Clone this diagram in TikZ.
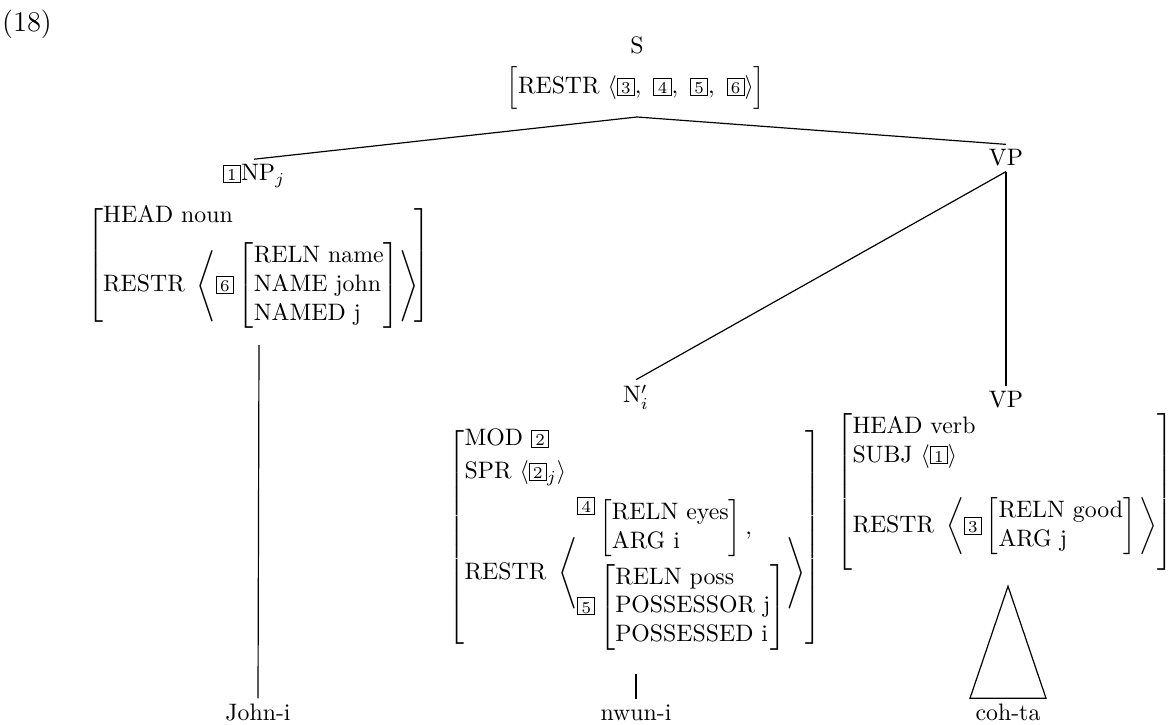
\documentclass[tikz,border=0pt]{standalone}
\usepackage{amsmath}
\usetikzlibrary{calc}
\newcommand{\tg}[1]{{\setlength{\fboxsep}{0pt}\setlength{\fboxrule}{0.4pt}\fbox{\makebox[6.8pt]{\rule[-0.6pt]{0pt}{6.9pt}\scriptsize #1}}}}
\newcommand{\avm}[1]{\left[\begin{array}{@{}l@{}}#1\end{array}\right]}
\begin{document}
\begin{tikzpicture}[x=0.4202pt,y=-0.4202pt,
  lbl/.style={inner sep=2pt},
  fs/.style={inner sep=0pt},
  tree/.style={line width=0.5pt}]
\useasboundingbox (0,0) rectangle (1171,725);
\node[lbl] (ex) at (27,24) {\large (18)};
% S
\node[lbl] (s) at (637,45) {S};
\node[fs] (sfs) at (636,88) {$\Bigl[\mbox{RESTR}\ \langle\tg{3},\ \tg{4},\ \tg{5},\ \tg{6}\rangle\Bigr]$};
\coordinate (sapex) at (637,117);
% NP
\node[lbl] (npl) at (254,176) {\tg{1}NP$_j$};
\node[fs,anchor=north] (npfs) at (259,202) {$\avm{\mbox{HEAD noun}\\[5pt]
  \mbox{RESTR}\ \left\langle\tg{6}\avm{\mbox{RELN name}\\ \mbox{NAME john}\\ \mbox{NAMED j}}\right\rangle\!}$};
% VP top
\node[lbl] (vpl) at (1006,158) {VP};
% N'
\node[lbl] (nbl) at (636,397) {N$'_i$};
\node[fs,anchor=north] (nbfs) at (635,425) {$\avm{\mbox{MOD }\tg{2}\\[2pt]
  \mbox{SPR}\ \langle\tg{2}_j\rangle\\[4pt]
  \mbox{RESTR}\ \left\langle\begin{array}{@{}l@{}}
    \raisebox{9pt}{\tg{4}}\avm{\mbox{RELN eyes}\\ \mbox{ARG i}},\\[9pt]
    \tg{5}\avm{\mbox{RELN poss}\\ \mbox{POSSESSOR j}\\ \mbox{POSSESSED i}}
  \end{array}\right\rangle}$};
% VP lower
\node[lbl] (vp2l) at (1006,400) {VP};
\node[fs,anchor=north] (vpfs) at (1005,413) {$\avm{\mbox{HEAD verb}\\
  \mbox{SUBJ}\ \langle\tg{1}\rangle\\
  \mbox{RESTR}\ \left\langle\tg{3}\avm{\mbox{RELN good}\\ \mbox{ARG j}}\vphantom{\rule[-9pt]{0pt}{21pt}}\right\rangle\!\vphantom{\rule[-16pt]{0pt}{42pt}}}$};
% leaves
\node[lbl,anchor=base] (john) at (258,720) {John-i};
\node[lbl,anchor=base] (nwun) at (636,720) {nwun-i};
\node[lbl,anchor=base] (coh) at (1008,720) {coh-ta};
% branches
\draw[tree] (sapex) -- (npl.north);
\draw[tree] (sapex) -- (vpl.north);
\draw[tree] (vpl.south) -- (nbl.north);
\draw[tree] (vpl.south) -- (vp2l.north);
\draw[tree] ($(npfs.south)+(0,16)$) -- (john.north);
\draw[tree] ($(nwun.north)+(0,-25)$) -- (nwun.north);
\draw[tree] ($(coh.north)+(0,-112)$) -- ($(coh.north)+(-38,0)$) -- ($(coh.north)+(38,0)$) -- cycle;
\end{tikzpicture}
\end{document}
